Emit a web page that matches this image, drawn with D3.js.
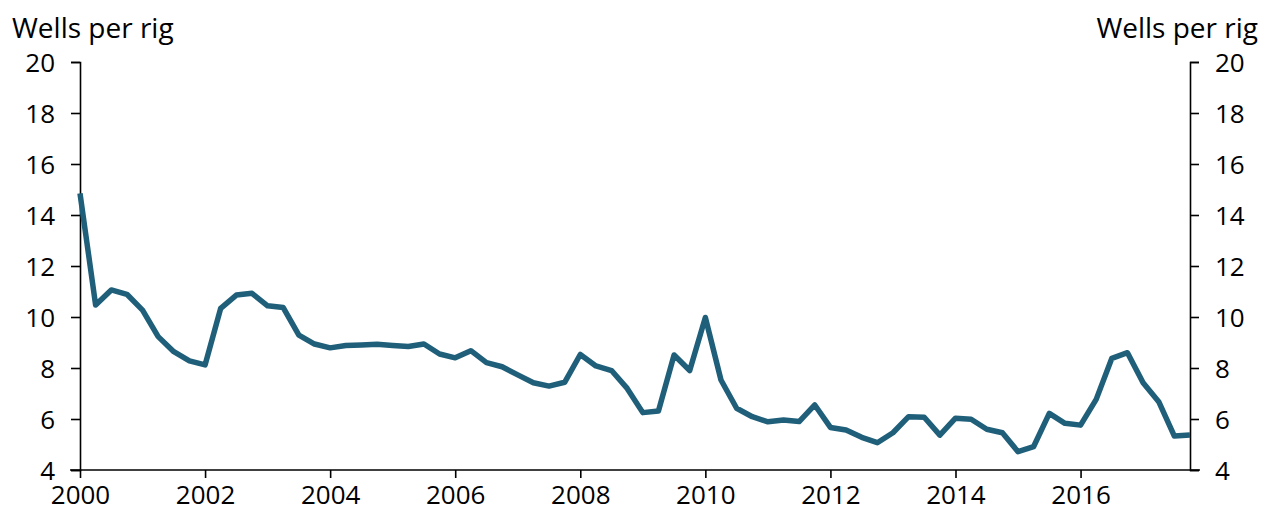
<!DOCTYPE html>
<html>
<head>
<meta charset="utf-8">
<script src="https://cdn.jsdelivr.net/npm/d3@7"></script>
<style>
  body { margin: 0; background: #fff; }
  svg { display: block; }
  .axis text { font-family: "Open Sans", sans-serif; font-size: 26px; fill: #000; }
  .axis path, .axis line { stroke: #000; stroke-width: 1.6; }
  .label { font-family: "Open Sans", sans-serif; font-size: 28px; fill: #000; }
</style>
</head>
<body>
<svg id="chart" width="1262" height="519"></svg>
<script>
// quarterly, 2000Q1 .. 2017Q4
const startYear = 2000;
const wellsPerRig = [
  14.85, 10.47, 11.06, 10.89, 10.27, 9.23, 8.64, 8.28,
  8.12, 10.34, 10.86, 10.93, 10.44, 10.37, 9.29, 8.94,
  8.79, 8.88, 8.90, 8.93, 8.88, 8.84, 8.94, 8.55,
  8.40, 8.68, 8.21, 8.05, 7.73, 7.42, 7.29, 7.44,
  8.53, 8.08, 7.90, 7.20, 6.25, 6.31, 8.51, 7.90,
  9.98, 7.53, 6.42, 6.09, 5.89, 5.96, 5.90, 6.55,
  5.67, 5.57, 5.28, 5.07, 5.46, 6.09, 6.07, 5.37,
  6.03, 5.99, 5.60, 5.46, 4.72, 4.92, 6.22, 5.83,
  5.76, 6.77, 8.38, 8.60, 7.42, 6.68, 5.33, 5.37
];
const yearTicks = [2000, 2002, 2004, 2006, 2008, 2010, 2012, 2014, 2016];
const yTicks = [4, 6, 8, 10, 12, 14, 16, 18, 20];
const axisTitle = 'Wells per rig';

const data = wellsPerRig.map((v, i) => ({ t: startYear + i * 0.25, v }));

const svg = d3.select('#chart');
const margin = { top: 62, right: 72, bottom: 49, left: 80 };
const width = 1262 - margin.left - margin.right;
const height = 519 - margin.top - margin.bottom;

const x = d3.scaleLinear()
  .domain([startYear, data[data.length - 1].t])
  .range([0, width]);
const y = d3.scaleLinear().domain([4, 20]).range([height, 0]);

const g = svg.append('g').attr('transform', `translate(${margin.left},${margin.top})`);

// left axis
g.append('g')
  .attr('class', 'axis')
  .call(d3.axisLeft(y).tickValues(yTicks).tickSize(9).tickPadding(16))
  .call(s => s.selectAll('text').attr('dy', '0.36em'));

// right axis
g.append('g')
  .attr('class', 'axis')
  .attr('transform', `translate(${width},0)`)
  .call(d3.axisRight(y).tickValues(yTicks).tickSize(9).tickPadding(16))
  .call(s => s.selectAll('text').attr('dy', '0.36em'));

// bottom axis
g.append('g')
  .attr('class', 'axis')
  .attr('transform', `translate(0,${height})`)
  .call(d3.axisBottom(x).tickValues(yearTicks).tickFormat(d3.format('d')).tickSize(8).tickPadding(8))
  .call(s => s.select('.domain').attr('d', `M-10,0H${width + 10}`));

// line
const line = d3.line().x(d => x(d.t)).y(d => y(d.v));
g.append('path')
  .datum(data)
  .attr('fill', 'none')
  .attr('stroke', '#1f5f7a')
  .attr('stroke-width', 5.5)
  .attr('stroke-linejoin', 'round')
  .attr('d', line);

// axis titles
svg.append('text').attr('class', 'label').attr('x', 12).attr('y', 38).text(axisTitle);
svg.append('text').attr('class', 'label').attr('x', 1258).attr('y', 38)
  .attr('text-anchor', 'end').text(axisTitle);
</script>
</body>
</html>
